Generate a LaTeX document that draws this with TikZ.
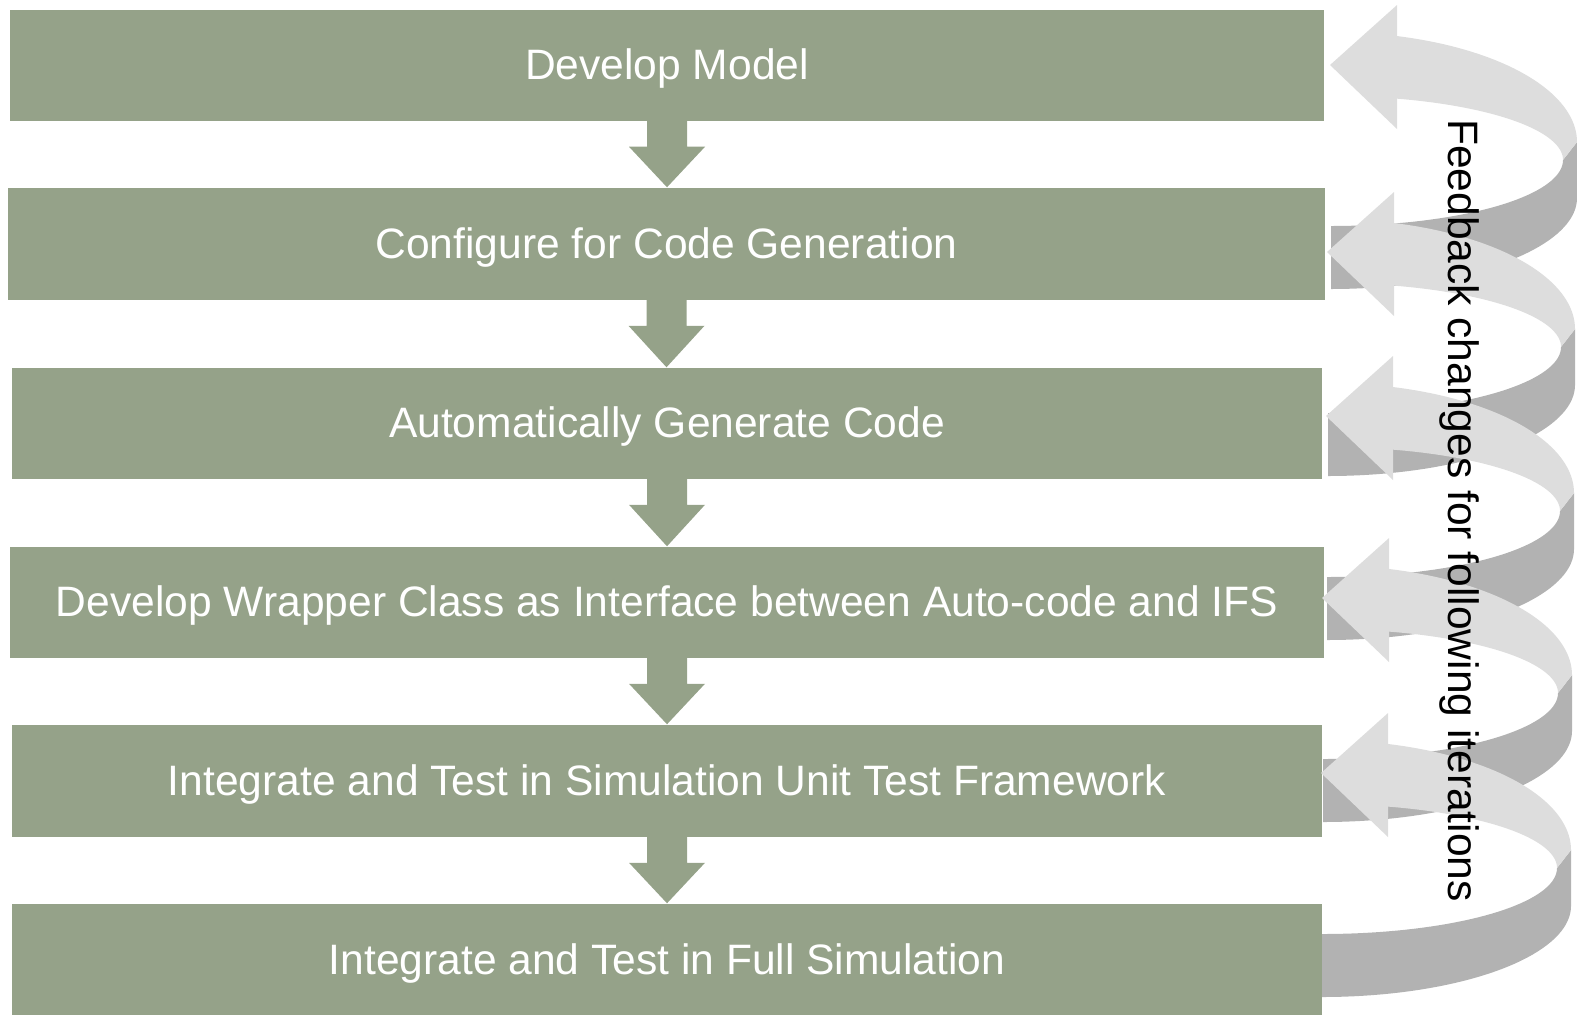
\documentclass[tikz,border=0pt]{standalone}
\usepackage{fontspec}
\setmainfont{Liberation Sans}
\usetikzlibrary{calc}

\definecolor{stagegreen}{RGB}{149,162,137}
\definecolor{loopfront}{RGB}{221,221,221}
\definecolor{loopback}{RGB}{178,178,178}
\newcommand\labelfont{\fontsize{12.1pt}{14pt}\selectfont}

% Ribbon-style feedback loop: #1 tail x, #2 centre y of the loop, #3 right-most x.
% The back (dark) half is drawn first, then the front half with its arrow head.
\newcommand\feedbackloop[3]{%
  \pgfmathsetmacro\rxo{#3-#1}%
  \pgfmathsetmacro\rxi{\rxo-14}%
  \pgfmathsetmacro\ao{-acos(66/\rxo)}%
  \pgfmathsetmacro\ai{-acos(66/\rxi)}%
  \fill[loopback] (#3,#2-18) -- (#3,#2+38)
    -- plot[domain=0:90,samples=40] ({#1+\rxo*cos(\x)},{#2+38+91*sin(\x)})
    -- (#1,#2+66)
    -- plot[domain=90:0,samples=40] ({#1+\rxi*cos(\x)},{#2+66*sin(\x)})
    -- cycle;
  \fill[loopfront] (#1-1,#2-95) -- (#1+66,#2-155)
    -- plot[domain=\ao:0,samples=40] ({#1+\rxo*cos(\x)},{#2-18+110*sin(\x)})
    -- plot[domain=0:\ai,samples=40] ({#1+\rxi*cos(\x)},{#2+64*sin(\x)})
    -- (#1+66,#2-31) -- cycle;
}

\tikzset{
  stage/.style={fill=stagegreen, text=white, font=\labelfont, inner sep=0pt,
    text height=11.5pt, text depth=3.3pt},
  flow/.style={fill=stagegreen}
}

\begin{document}
\begin{tikzpicture}[x=0.01cm, y=-0.01cm]
\useasboundingbox (0,0) rectangle (1577,1014);

% process stages
\node[stage, minimum width=13.14cm, minimum height=1.11cm] (b1) at (667,65.5) {Develop Model};
\node[stage, minimum width=13.17cm, minimum height=1.12cm] (b2) at (666.5,244) {Configure for Code Generation};
\node[stage, minimum width=13.10cm, minimum height=1.11cm] (b3) at (667,423.5) {Automatically Generate Code};
\node[stage, minimum width=13.14cm, minimum height=1.11cm] (b4) at (667,602.5) {Develop Wrapper Class as Interface between Auto-code and IFS};
\node[stage, minimum width=13.10cm, minimum height=1.12cm] (b5) at (667,781) {Integrate and Test in Simulation Unit Test Framework};
\node[stage, minimum width=13.10cm, minimum height=1.12cm] (b6) at (667,960) {Integrate and Test in Full Simulation};

% block arrows between consecutive stages
\foreach \a/\b in {b1/b2,b2/b3,b3/b4,b4/b5,b5/b6} {
  \fill[flow] ($(\a.south)+(-20,-1)$) -- ($(\a.south)+(-20,25)$)
    -- ($(\a.south)+(-38,25)$) -- (\a.south |- \b.north)
    -- ($(\a.south)+(38,25)$) -- ($(\a.south)+(20,25)$)
    -- ($(\a.south)+(20,-1)$) -- cycle;
}

% feedback loops on the right, top to bottom
\feedbackloop{1331}{160}{1577}
\feedbackloop{1328}{347}{1575}
\feedbackloop{1327}{511}{1574}
\feedbackloop{1323}{693}{1572}
\feedbackloop{1322}{868}{1571}

\node[font=\labelfont, rotate=-90, anchor=base, inner sep=0pt] (fb) at (1448,510.5)
  {Feedback changes for following iterations};
\end{tikzpicture}
\end{document}
